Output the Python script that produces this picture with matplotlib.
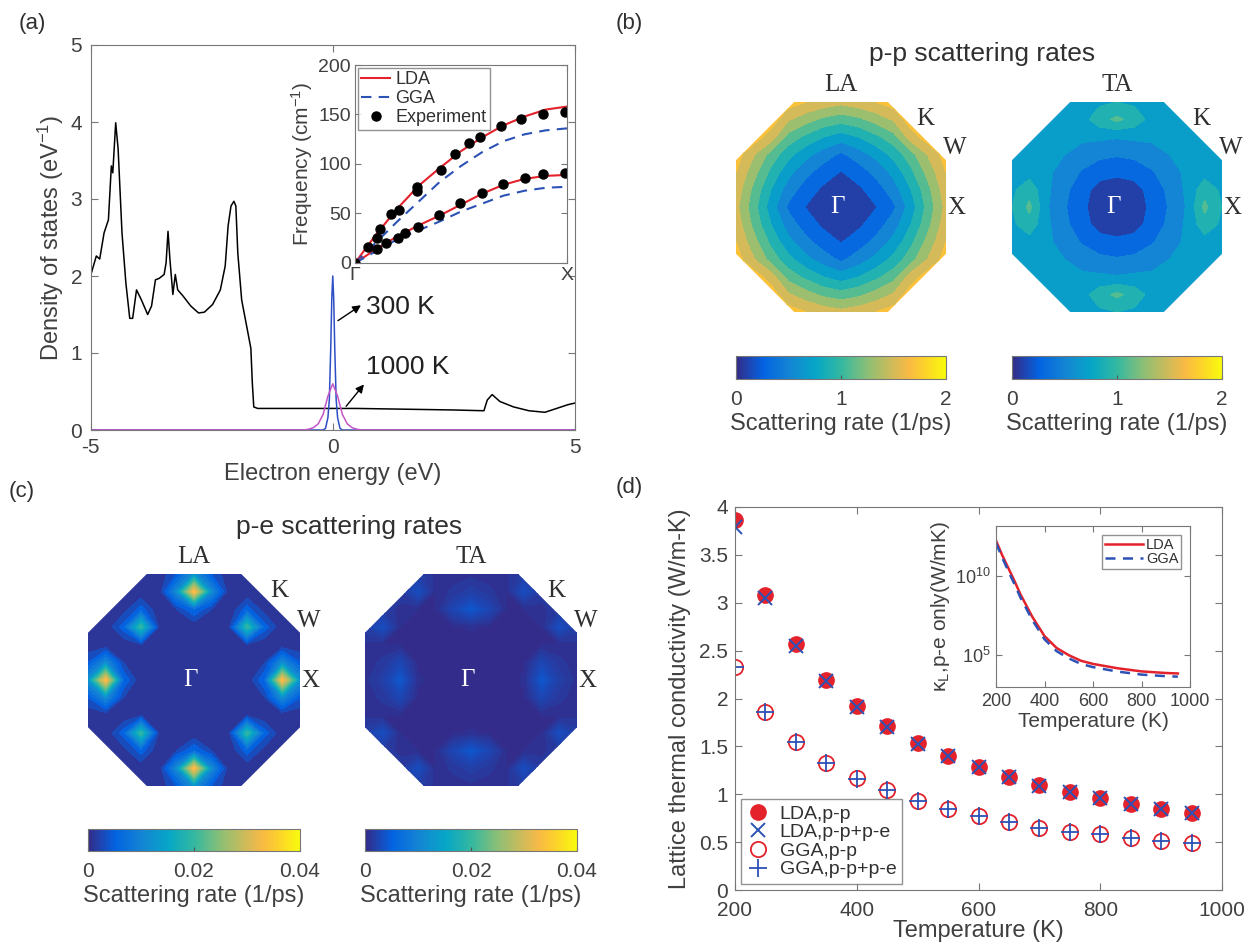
# Thermal transport figure: DOS, scattering-rate maps, lattice conductivity

import numpy as np
import matplotlib
matplotlib.use('Agg')
import matplotlib.pyplot as plt
from matplotlib.colors import LinearSegmentedColormap, Normalize
from matplotlib.cm import ScalarMappable
from matplotlib.patches import Polygon

###########   DATA   ###########

# (a) electronic density of states
dos_energy = [-5.00, -4.88, -4.81, -4.72, -4.63, -4.57, -4.54, -4.48, -4.43, -4.35,
              -4.27, -4.19, -4.13, -4.05, -3.95, -3.82, -3.74, -3.66, -3.58, -3.48,
              -3.44, -3.40, -3.36, -3.30, -3.25, -3.20, -3.09, -2.93, -2.77, -2.65,
              -2.48, -2.32, -2.22, -2.16, -2.10, -2.04, -2.00, -1.96, -1.88, -1.75,
              -1.69, -1.66, -1.63, -1.55, -0.50, 0.50, 1.50, 2.50, 3.12, 3.19,
              3.29, 3.45, 3.73, 4.05, 4.38, 4.62, 4.86, 5.00]
dos_value = [2.00, 2.26, 2.22, 2.56, 2.73, 3.43, 3.34, 3.99, 3.65, 2.56,
             1.91, 1.45, 1.45, 1.82, 1.69, 1.50, 1.61, 1.95, 1.97, 2.02,
             2.17, 2.58, 2.21, 1.76, 2.02, 1.82, 1.74, 1.61, 1.52, 1.53,
             1.63, 1.82, 2.13, 2.65, 2.91, 2.97, 2.91, 2.30, 1.69, 1.26,
             1.06, 0.61, 0.30, 0.28, 0.28, 0.28, 0.27, 0.26, 0.25, 0.39,
             0.46, 0.37, 0.30, 0.25, 0.23, 0.28, 0.33, 0.35]

# Fermi window at 300 K and 1000 K
win300_energy = [-5.0, -0.20, -0.15, -0.10, -0.07, -0.04, -0.02, 0.0, 0.02, 0.04, 0.07, 0.10, 0.15, 0.20, 5.0]
win300_value = [0.0, 0.0, 0.02, 0.16, 0.40, 1.10, 1.70, 2.00, 1.70, 1.10, 0.40, 0.16, 0.02, 0.0, 0.0]
win1000_energy = [-5.0, -0.6, -0.5, -0.4, -0.3, -0.2, -0.1, 0.0, 0.1, 0.2, 0.3, 0.4, 0.5, 0.6, 5.0]
win1000_value = [0.0, 0.0, 0.01, 0.03, 0.08, 0.20, 0.44, 0.60, 0.44, 0.20, 0.08, 0.03, 0.01, 0.0, 0.0]

# (a) inset: phonon dispersion Gamma -> X
disp_q = [0.0, 0.1, 0.2, 0.3, 0.4, 0.5, 0.6, 0.7, 0.8, 0.9, 1.0]
lda_la = [0, 29, 55, 78, 96, 113, 127, 139, 148, 155, 158]
lda_ta = [0, 14, 27, 38, 48, 59, 70, 79, 85, 88, 89]
gga_la = [0, 21, 42, 62, 82, 98, 112, 123, 130, 134, 136]
gga_ta = [0, 12, 24, 33, 42, 52, 60, 68, 73, 76, 77]
exp_q = [0.0, 0.062, 0.106, 0.117, 0.168, 0.207, 0.291, 0.291, 0.404, 0.471, 0.540, 0.591,
         0.689, 0.782, 0.888, 0.992,
         0.106, 0.148, 0.202, 0.238, 0.299, 0.398, 0.493, 0.599, 0.700, 0.804, 0.888, 0.992]
exp_freq = [0, 16, 25, 34, 49, 54, 77, 73, 94, 110, 121, 127,
            138, 145, 151, 153,
            14, 20, 25, 30, 36, 48, 61, 71, 80, 86, 90, 91]

# (b) p-p scattering rates, one quadrant (rows: ky = 0..1, cols: kx = 0..1), 1/ps
pp_la_quad = [[0.00, 0.08, 0.19, 0.36, 0.70, 1.08, 1.46],
              [0.08, 0.16, 0.30, 0.50, 0.80, 1.15, 1.52],
              [0.19, 0.30, 0.46, 0.66, 0.95, 1.28, 1.60],
              [0.36, 0.50, 0.66, 0.86, 1.12, 1.42, 1.70],
              [0.70, 0.80, 0.95, 1.12, 1.50, 1.72, 1.84],
              [1.08, 1.15, 1.28, 1.42, 1.72, 1.85, 1.92],
              [1.46, 1.52, 1.60, 1.70, 1.84, 1.92, 1.98]]
pp_ta_quad = [[0.00, 0.08, 0.25, 0.42, 0.62, 1.05, 0.80],
              [0.08, 0.12, 0.28, 0.45, 0.64, 0.92, 0.76],
              [0.25, 0.28, 0.38, 0.52, 0.64, 0.72, 0.70],
              [0.42, 0.45, 0.52, 0.60, 0.68, 0.74, 0.70],
              [0.62, 0.64, 0.64, 0.68, 0.74, 0.78, 0.75],
              [1.05, 0.92, 0.72, 0.74, 0.78, 0.78, 0.78],
              [0.80, 0.76, 0.70, 0.70, 0.75, 0.78, 0.78]]

# (c) p-e scattering rates, same quadrant layout, 1/ps
pe_la_quad = [[0.0003, 0.0003, 0.0003, 0.0003, 0.0060, 0.0340, 0.0120],
              [0.0003, 0.0003, 0.0003, 0.0003, 0.0020, 0.0110, 0.0040],
              [0.0003, 0.0003, 0.0003, 0.0015, 0.0003, 0.0003, 0.0003],
              [0.0003, 0.0003, 0.0015, 0.0200, 0.0050, 0.0003, 0.0003],
              [0.0060, 0.0020, 0.0003, 0.0050, 0.0010, 0.0003, 0.0003],
              [0.0340, 0.0110, 0.0003, 0.0003, 0.0003, 0.0003, 0.0003],
              [0.0120, 0.0040, 0.0003, 0.0003, 0.0003, 0.0003, 0.0003]]
pe_ta_quad = [[0.0003, 0.0003, 0.0003, 0.0006, 0.0040, 0.0018, 0.0008],
              [0.0003, 0.0003, 0.0003, 0.0004, 0.0025, 0.0012, 0.0006],
              [0.0003, 0.0003, 0.0003, 0.0003, 0.0005, 0.0005, 0.0008],
              [0.0006, 0.0004, 0.0003, 0.0003, 0.0005, 0.0032, 0.0018],
              [0.0040, 0.0025, 0.0005, 0.0005, 0.0008, 0.0014, 0.0010],
              [0.0018, 0.0012, 0.0005, 0.0032, 0.0014, 0.0008, 0.0008],
              [0.0008, 0.0006, 0.0008, 0.0018, 0.0010, 0.0008, 0.0008]]

# (d) lattice thermal conductivity (W/m-K)
temperature = [200, 250, 300, 350, 400, 450, 500, 550, 600, 650, 700, 750, 800, 850, 900, 950]
k_lda_pp = [3.86, 3.08, 2.57, 2.19, 1.92, 1.71, 1.54, 1.40, 1.28, 1.18, 1.10, 1.02, 0.96, 0.90, 0.85, 0.80]
k_lda_pppe = [3.79, 3.05, 2.55, 2.18, 1.91, 1.70, 1.53, 1.40, 1.28, 1.18, 1.09, 1.02, 0.96, 0.90, 0.85, 0.80]
k_gga_pp = [2.33, 1.86, 1.55, 1.33, 1.17, 1.04, 0.93, 0.85, 0.77, 0.71, 0.65, 0.61, 0.58, 0.54, 0.51, 0.49]
k_gga_pppe = [2.33, 1.86, 1.55, 1.33, 1.16, 1.04, 0.93, 0.85, 0.77, 0.71, 0.65, 0.61, 0.58, 0.54, 0.51, 0.49]

# (d) inset: p-e only conductivity, log10 values
pe_temperature = [200, 225, 250, 275, 300, 350, 400, 450, 500, 550, 600, 700, 800, 900, 950]
pe_lda_log10 = [12.2, 11.3, 10.5, 9.7, 8.85, 7.4, 6.2, 5.45, 5.0, 4.65, 4.45, 4.18, 3.98, 3.88, 3.85]
pe_gga_log10 = [12.05, 11.15, 10.3, 9.5, 8.65, 7.2, 6.0, 5.25, 4.8, 4.45, 4.25, 3.97, 3.78, 3.68, 3.65]

###########   STYLE   ###########

plt.rcParams['font.family'] = ['Liberation Sans', 'DejaVu Sans']
plt.rcParams['mathtext.default'] = 'regular'
plt.rcParams['axes.unicode_minus'] = False
plt.rcParams['xtick.direction'] = 'in'
plt.rcParams['ytick.direction'] = 'in'
plt.rcParams['xtick.top'] = True
plt.rcParams['ytick.right'] = True
plt.rcParams['axes.edgecolor'] = '#777777'
plt.rcParams['xtick.color'] = '#777777'
plt.rcParams['ytick.color'] = '#777777'
plt.rcParams['xtick.labelcolor'] = '#404040'
plt.rcParams['ytick.labelcolor'] = '#404040'
plt.rcParams['axes.labelcolor'] = '#404040'
plt.rcParams['text.color'] = '#303030'

# MATLAB parula, sampled
parula_pts = [(0.00, (0.2081, 0.1663, 0.5292)), (0.127, (0.0117, 0.3875, 0.8820)),
              (0.254, (0.0793, 0.5200, 0.8312)), (0.381, (0.0228, 0.6535, 0.7768)),
              (0.508, (0.2178, 0.7250, 0.6193)), (0.635, (0.5709, 0.7485, 0.4494)),
              (0.762, (0.8506, 0.7299, 0.3360)), (0.825, (0.9738, 0.7314, 0.2666)),
              (0.889, (0.9880, 0.8066, 0.1794)), (1.00, (0.9763, 0.9831, 0.0538))]
parula = LinearSegmentedColormap.from_list('parula', parula_pts)

RED = '#e3222b'
BLUE = '#2c52b5'
SERIF = ['Liberation Serif', 'DejaVu Serif']

W, H = 1256, 943
fig = plt.figure(figsize=(W / 100, H / 100), dpi=100)


def rect(left, top, right, bottom):
	# pixel box -> figure fraction
	return [left / W, 1 - bottom / H, (right - left) / W, (bottom - top) / H]


def ftext(x, y, s, **kw):
	fig.text(x / W, 1 - y / H, s, ha='center', va='center', **kw)


def mirror(quad):
	q = np.asarray(quad, dtype=float)
	half = np.concatenate([q[:, :0:-1], q], axis=1)
	return np.concatenate([half[:0:-1], half], axis=0)


cut = 0.446
octagon = [(-cut, 1), (cut, 1), (1, cut), (1, -cut), (cut, -1), (-cut, -1), (-1, -cut), (-1, cut)]


def draw_map(box, quad, levels, vmax, mode):
	ax = fig.add_axes(rect(*box))
	z = mirror(quad)
	k = np.linspace(-1, 1, z.shape[0])
	kx, ky = np.meshgrid(k, k)
	cs = ax.contourf(kx, ky, z, levels=levels, cmap=parula, norm=Normalize(0, vmax))
	clip = Polygon(octagon, closed=True, transform=ax.transData, facecolor='none', edgecolor='none')
	ax.add_patch(clip)
	cs.set_clip_path(clip)
	ax.set_xlim(-1, 1)
	ax.set_ylim(-1, 1)
	ax.set_aspect('equal')
	ax.axis('off')
	ax.text(-0.03, 0, r'Γ', color='white', fontsize=18, family=SERIF, ha='center', va='center')
	ax.text(0, 1.16, mode, fontsize=18, family=SERIF, ha='center', va='center', clip_on=False)
	ax.text(0.80, 0.84, 'K', fontsize=18, family=SERIF, ha='center', va='center', clip_on=False)
	ax.text(1.08, 0.56, 'W', fontsize=18, family=SERIF, ha='center', va='center', clip_on=False)
	ax.text(1.10, -0.01, 'X', fontsize=18, family=SERIF, ha='center', va='center', clip_on=False)
	return ax


def draw_cbar(box, vmax, ticks, labels):
	cax = fig.add_axes(rect(*box))
	cb = fig.colorbar(ScalarMappable(norm=Normalize(0, vmax), cmap=parula), cax=cax, orientation='horizontal')
	cb.set_ticks(ticks)
	cb.set_ticklabels(labels)
	cb.ax.tick_params(direction='in', length=3, labelsize=15, colors='#555555', labelcolor='#404040', pad=8)
	cb.outline.set_edgecolor('#777777')
	cb.set_label('Scattering rate (1/ps)', fontsize=17, labelpad=3)


###########   (a)   ###########

ax_a = fig.add_axes(rect(90.5, 45, 575, 430))
ax_a.plot(dos_energy, dos_value, color='black', lw=1.1)
ax_a.plot(win300_energy, win300_value, color='#2e4fc4', lw=1.1)
ax_a.plot(win1000_energy, win1000_value, color='#c455c8', lw=1.1)
ax_a.set_xlim(-5, 5)
ax_a.set_ylim(0, 5)
ax_a.set_xticks([-5, 0, 5])
ax_a.set_yticks([0, 1, 2, 3, 4, 5])
ax_a.tick_params(labelsize=15, length=5, pad=6)
ax_a.set_xlabel('Electron energy (eV)', fontsize=17)
ax_a.set_ylabel('Density of states (eV$^{-1}$)', fontsize=17, labelpad=3)
ax_a.annotate('', xy=(0.63, 1.64), xytext=(0.06, 1.40),
              arrowprops=dict(arrowstyle='-|>', color='black', lw=1, mutation_scale=12))
ax_a.annotate('', xy=(0.68, 0.62), xytext=(0.24, 0.28),
              arrowprops=dict(arrowstyle='-|>', color='black', lw=1, mutation_scale=12))
ax_a.text(0.68, 1.60, '300 K', fontsize=19, color='#202020', va='center', ha='left')
ax_a.text(0.68, 0.82, '1000 K', fontsize=19, color='#202020', va='center', ha='left')

ax_in = fig.add_axes(rect(355, 65, 567, 263))
ax_in.plot(disp_q, lda_la, color=RED, lw=1.5, label='LDA')
ax_in.plot(disp_q, gga_la, color=BLUE, lw=1.5, ls=(0, (5, 3.5)), label='GGA')
ax_in.plot(disp_q, lda_ta, color=RED, lw=1.5)
ax_in.plot(disp_q, gga_ta, color=BLUE, lw=1.5, ls=(0, (5, 3.5)))
ax_in.plot(exp_q, exp_freq, 'o', color='black', ms=6.5, ls='none', label='Experiment')
ax_in.set_xlim(0, 1)
ax_in.set_ylim(0, 200)
ax_in.set_xticks([0, 1])
ax_in.set_xticklabels(['Γ', 'X'])
ax_in.set_yticks([0, 50, 100, 150, 200])
ax_in.tick_params(labelsize=14, length=4, pad=3)
ax_in.set_ylabel('Frequency (cm$^{-1}$)', fontsize=15, labelpad=2)
leg = ax_in.legend(loc='upper left', fontsize=13, frameon=True, fancybox=False, handlelength=1.6,
                   handletextpad=0.3, labelspacing=0.1, borderpad=0.2, borderaxespad=0.15)
leg.get_frame().set_edgecolor('#777777')
leg.get_frame().set_linewidth(1.0)

###########   (b)   ###########

draw_map((736, 102, 946, 312), pp_la_quad, np.linspace(0, 2, 11), 2, 'LA')
draw_map((1012, 102, 1222, 312), pp_ta_quad, np.linspace(0, 2, 11), 2, 'TA')
draw_cbar((736, 356, 946, 379), 2, [0, 1, 2], ['0', '1', '2'])
draw_cbar((1012, 356, 1222, 379), 2, [0, 1, 2], ['0', '1', '2'])
ftext(982, 54, 'p-p scattering rates', fontsize=19)

###########   (c)   ###########

draw_map((88, 574, 300, 786), pe_la_quad, np.linspace(0, 0.04, 21), 0.04, 'LA')
draw_map((365, 574, 577, 786), pe_ta_quad, np.linspace(0, 0.04, 81), 0.04, 'TA')
draw_cbar((88, 829, 300, 851), 0.04, [0, 0.02, 0.04], ['0', '0.02', '0.04'])
draw_cbar((365, 829, 577, 851), 0.04, [0, 0.02, 0.04], ['0', '0.02', '0.04'])
ftext(349, 527, 'p-e scattering rates', fontsize=19)

###########   (d)   ###########

ax_d = fig.add_axes(rect(735, 507, 1222, 890))
ax_d.plot(temperature, k_lda_pp, 'o', color=RED, ms=11, ls='none', label='LDA,p-p')
ax_d.plot(temperature, k_lda_pppe, 'x', color=BLUE, ms=10, mew=1.4, ls='none', label='LDA,p-p+p-e')
ax_d.plot(temperature, k_gga_pp, 'o', mfc='none', mec=RED, ms=11, mew=1.3, ls='none', label='GGA,p-p')
ax_d.plot(temperature, k_gga_pppe, '+', color=BLUE, ms=13, mew=1.3, ls='none', label='GGA,p-p+p-e')
ax_d.set_xlim(200, 1000)
ax_d.set_ylim(0, 4)
ax_d.set_xticks([200, 400, 600, 800, 1000])
ax_d.set_yticks([0, 0.5, 1, 1.5, 2, 2.5, 3, 3.5, 4])
ax_d.set_yticklabels(['0', '0.5', '1', '1.5', '2', '2.5', '3', '3.5', '4'])
ax_d.tick_params(labelsize=15, length=5, pad=5)
ax_d.tick_params(axis='x', pad=8)
ax_d.set_xlabel('Temperature (K)', fontsize=17, labelpad=0)
ax_d.set_ylabel('Lattice thermal conductivity (W/m-K)', fontsize=17, labelpad=6)
leg = ax_d.legend(loc='lower left', fontsize=14, frameon=True, fancybox=False, handlelength=1.2,
                  handletextpad=0.5, labelspacing=0.05, borderpad=0.3, borderaxespad=0.3)
leg.get_frame().set_edgecolor('#777777')
leg.get_frame().set_linewidth(1.0)

ax_di = fig.add_axes(rect(996, 526, 1190, 687))
ax_di.semilogy(pe_temperature, 10.0 ** np.array(pe_lda_log10), color=RED, lw=1.8, label='LDA')
ax_di.semilogy(pe_temperature, 10.0 ** np.array(pe_gga_log10), color=BLUE, lw=1.8, ls=(0, (4, 3)), label='GGA')
ax_di.set_xlim(200, 1000)
ax_di.set_ylim(1e3, 1.3e13)
ax_di.set_xticks([200, 400, 600, 800, 1000])
ax_di.set_yticks([1e5, 1e10])
ax_di.set_yticklabels(['$10^{5}$', '$10^{10}$'])
ax_di.minorticks_off()
ax_di.tick_params(labelsize=13, length=4, pad=4)
ax_di.set_xlabel('Temperature (K)', fontsize=15, labelpad=2)
ax_di.set_ylabel('κ$_L$,p-e only(W/mK)', fontsize=15, labelpad=2)
leg = ax_di.legend(loc='upper right', fontsize=10.5, frameon=True, fancybox=False, handlelength=2.6,
                   handletextpad=0.2, labelspacing=0.05, borderpad=0.2, borderaxespad=0.6)
leg.get_frame().set_edgecolor('#777777')
leg.get_frame().set_linewidth(1.0)

###########   PANEL LETTERS   ###########

ftext(32, 24, '(a)', fontsize=16)
ftext(629, 23, '(b)', fontsize=16)
ftext(22, 492, '(c)', fontsize=16)
ftext(629, 488, '(d)', fontsize=16)

fig.savefig('out.png', dpi=100)
